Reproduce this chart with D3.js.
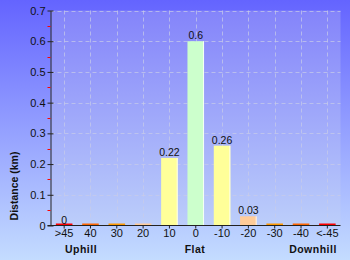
<!DOCTYPE html>
<html>
<head>
<meta charset="utf-8">
<script src="https://cdn.jsdelivr.net/npm/d3@7"></script>
<style>
  body { margin: 0; }
  svg { display: block; font-family: "Liberation Sans", Arial, sans-serif; }
</style>
</head>
<body>
<svg width="350" height="260"></svg>
<script>
// chart data
const categories = ['>45', '40', '30', '20', '10', '0', '-10', '-20', '-30', '-40', '<-45'];
const distances = [0, 0, 0, 0, 0.22, 0.6, 0.26, 0.03, 0, 0, 0];
const barLabels = ['0', '', '', '', '0.22', '0.6', '0.26', '0.03', '', '', ''];
const barColors = ['#ff0000', '#ff6600', '#ff9900', '#ffcc99', '#ffff99', '#ccffcc',
  '#ffff99', '#ffcc99', '#ff9900', '#ff6600', '#ff0000'];
const yTicks = [0, 0.1, 0.2, 0.3, 0.4, 0.5, 0.6, 0.7];
const yMinor = [0.05, 0.15, 0.25, 0.35, 0.45, 0.55, 0.65];
const groupLabels = ['Uphill', 'Flat', 'Downhill'];
const groupX = [81, 195, 313];

(function () {
  const svg = d3.select('svg');
  const width = Number(svg.attr('width'));
  const height = Number(svg.attr('height'));
  const left = 50.5, right = 340.5, top = 10.5, bottom = 225.5;

  // gradients
  const defs = svg.append('defs');
  const bg = defs.append('linearGradient').attr('id', 'bg').attr('x1', 0).attr('x2', 0).attr('y1', 0).attr('y2', 1);
  bg.append('stop').attr('offset', 0).attr('stop-color', '#6464ff');
  bg.append('stop').attr('offset', 1).attr('stop-color', '#c4dcff');
  const pg = defs.append('linearGradient').attr('id', 'pg').attr('x1', 0).attr('x2', 0).attr('y1', 0).attr('y2', 1);
  pg.append('stop').attr('offset', 0).attr('stop-color', '#8484fa');
  pg.append('stop').attr('offset', 1).attr('stop-color', '#bccefa');

  svg.append('rect').attr('width', width).attr('height', height).attr('fill', 'url(#bg)');
  svg.append('rect').attr('x', left).attr('y', top).attr('width', right - left).attr('height', bottom - top)
    .attr('fill', 'url(#pg)');

  const x = d3.scaleBand().domain(categories).range([left + 0.5, right]).paddingInner(0.37).paddingOuter(0.185);
  const y = d3.scaleLinear().domain([0, 0.7]).range([bottom, top]);

  // grid
  const grid = svg.append('g').attr('stroke', '#c8cce8').attr('stroke-opacity', 0.7)
    .attr('stroke-dasharray', '4,3').attr('stroke-width', 1);
  grid.selectAll('line.h').data(yTicks.slice(1)).join('line')
    .attr('x1', left).attr('x2', right)
    .attr('y1', d => Math.round(y(d)) + 0.5).attr('y2', d => Math.round(y(d)) + 0.5);
  grid.selectAll('line.v').data(categories).join('line')
    .attr('x1', d => Math.round(x(d) + x.bandwidth() / 2) + 0.5)
    .attr('x2', d => Math.round(x(d) + x.bandwidth() / 2) + 0.5)
    .attr('y1', top).attr('y2', bottom);

  // bars (zero values still get a thin strip)
  const data = categories.map((c, i) => ({c, v: distances[i], label: barLabels[i], color: barColors[i]}));
  const bars = svg.append('g');
  bars.selectAll('rect').data(data).join('rect')
    .attr('x', d => x(d.c))
    .attr('width', x.bandwidth())
    .attr('y', d => Math.min(y(d.v), bottom - 2))
    .attr('height', d => Math.max(bottom - y(d.v), 2))
    .attr('fill', d => d.color);
  // light right edge on the bars
  bars.selectAll('line').data(data.filter(d => d.v > 0)).join('line')
    .attr('x1', d => x(d.c) + x.bandwidth() - 0.5).attr('x2', d => x(d.c) + x.bandwidth() - 0.5)
    .attr('y1', d => y(d.v)).attr('y2', bottom)
    .attr('stroke', '#ffffff').attr('stroke-opacity', 0.8);

  svg.append('g').selectAll('text').data(data.filter(d => d.label)).join('text')
    .attr('x', d => x(d.c) + x.bandwidth() / 2)
    .attr('y', d => y(d.v) - 2)
    .attr('text-anchor', 'middle')
    .attr('font-size', 10.5)
    .attr('fill', '#111')
    .text(d => d.label);

  // y axis
  const yAxis = svg.append('g').attr('transform', `translate(${left},0)`)
    .call(d3.axisLeft(y).tickValues(yTicks).tickSize(0).tickPadding(5)
      .tickFormat(d => d === 0 ? '0' : d3.format('.1f')(d)));
  yAxis.select('.domain').attr('stroke', '#222');
  yAxis.selectAll('text').attr('font-size', 11).attr('fill', '#111').attr('font-family', null);
  yAxis.selectAll('.tick').append('line').attr('x1', -3).attr('x2', 3).attr('stroke', '#222');
  svg.append('g').selectAll('line').data(yMinor).join('line')
    .attr('x1', left - 3).attr('x2', left)
    .attr('y1', d => Math.round(y(d)) + 0.5).attr('y2', d => Math.round(y(d)) + 0.5)
    .attr('stroke', '#ff0000');

  // x axis
  const xAxis = svg.append('g').attr('transform', `translate(0,${bottom})`)
    .call(d3.axisBottom(x).tickSize(3).tickPadding(1));
  xAxis.select('.domain').attr('d', `M${left - 3},0H${right}`).attr('stroke', '#222');
  xAxis.selectAll('.tick line').attr('stroke', '#222');
  xAxis.selectAll('text').attr('font-size', 11).attr('fill', '#111').attr('font-family', null);

  // group labels
  svg.append('g').selectAll('text').data(groupLabels).join('text')
    .attr('x', (d, i) => groupX[i])
    .attr('y', 253)
    .attr('text-anchor', 'middle')
    .attr('font-size', 10.5)
    .attr('font-weight', 'bold')
    .attr('letter-spacing', 0.5)
    .attr('fill', '#111')
    .text(d => d);

  // y title
  svg.append('text')
    .attr('transform', 'translate(18,186) rotate(-90)')
    .attr('text-anchor', 'middle')
    .attr('font-size', 10.5)
    .attr('font-weight', 'bold')
    .attr('fill', '#111')
    .text('Distance (km)');
})();
</script>
</body>
</html>
